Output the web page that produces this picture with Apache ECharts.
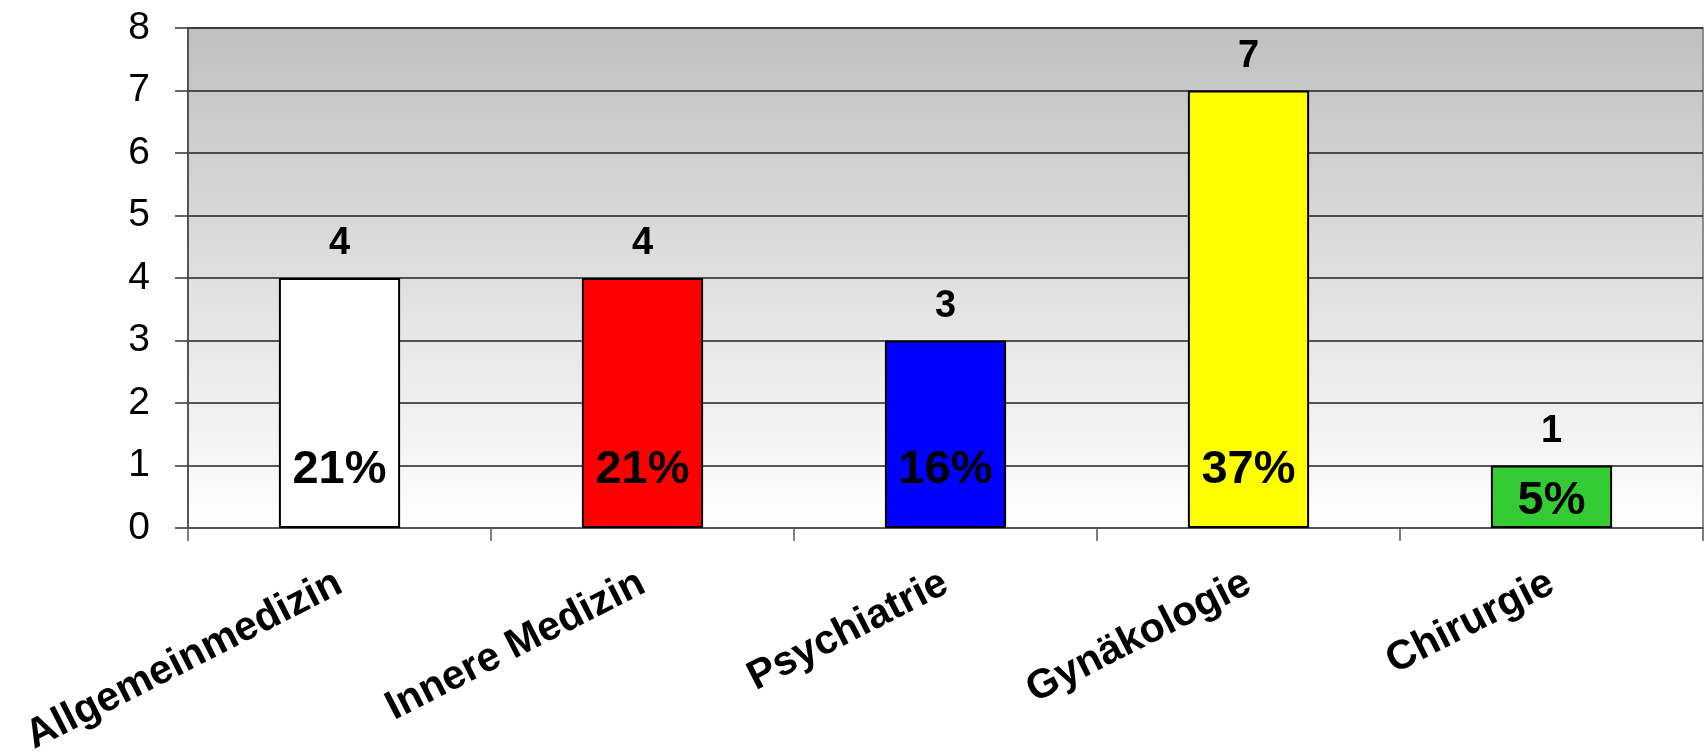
<!DOCTYPE html>
<html>
<head>
<meta charset="utf-8">
<script src="https://cdn.jsdelivr.net/npm/echarts@6/dist/echarts.min.js"></script>
<style>
html,body{margin:0;padding:0;background:#fff;}
#c{width:1708px;height:753px;}
</style>
</head>
<body>
<div id="c"></div>
<script>
const categories = ['Allgemeinmedizin', 'Innere Medizin', 'Psychiatrie', 'Gynäkologie', 'Chirurgie'];
const counts = [4, 4, 3, 7, 1];
const percents = ['21%', '21%', '16%', '37%', '5%'];
const barColors = ['#ffffff', '#ff0000', '#0000ff', '#ffff00', '#33cc33'];
const yTicks = [0, 1, 2, 3, 4, 5, 6, 7, 8];

const FONT = '"Liberation Sans", Arial, sans-serif';

const chart = echarts.init(document.getElementById('c'), null, {renderer: 'canvas'});

const mainData = counts.map((v, i) => ({
  value: v,
  itemStyle: {color: barColors[i]}
}));
const pctData = counts.map((v, i) => ({
  value: v,
  label: v >= 2
    ? {position: 'insideBottom', distance: 34}
    : {position: 'inside', offset: [0, 4]}
}));

chart.setOption({
  animation: false,
  grid: {
    left: 188, right: 5, top: 28, bottom: 225,
    containLabel: false,
    outerBoundsMode: 'none',
    show: true,
    borderColor: '#8c8c8c',
    borderWidth: 2,
    backgroundColor: new echarts.graphic.LinearGradient(0, 0, 0, 1, [
      {offset: 0, color: '#c0c0c0'},
      {offset: 1, color: '#ffffff'}
    ])
  },
  xAxis: {
    type: 'category',
    data: categories,
    axisLine: {show: true, lineStyle: {color: '#555', width: 2}},
    axisTick: {show: true, length: 13, lineStyle: {color: '#555', width: 1.5}},
    axisLabel: {
      interval: 0,
      rotate: 27,
      margin: 53,
      color: '#000',
      fontFamily: FONT,
      fontWeight: 'bold',
      fontSize: 41
    }
  },
  yAxis: {
    type: 'value',
    min: yTicks[0],
    max: yTicks[yTicks.length - 1],
    interval: 1,
    axisLine: {show: true, lineStyle: {color: '#555', width: 2}},
    axisTick: {show: true, length: 13, lineStyle: {color: '#333', width: 1.5}},
    splitLine: {show: true, lineStyle: {color: '#222', width: 1.5}},
    axisLabel: {
      margin: 38,
      color: '#000',
      fontFamily: FONT,
      fontSize: 39
    }
  },
  series: [
    {
      type: 'bar',
      data: mainData,
      barWidth: '40%',
      itemStyle: {borderColor: '#000', borderWidth: 2},
      label: {
        show: true,
        position: 'top',
        distance: 15,
        color: '#000',
        fontFamily: FONT,
        fontWeight: 'bold',
        fontSize: 38
      },
      z: 2
    },
    {
      type: 'bar',
      data: pctData,
      barWidth: '40%',
      barGap: '-100%',
      itemStyle: {color: 'rgba(0,0,0,0)'},
      label: {
        show: true,
        formatter: p => percents[p.dataIndex],
        color: '#000',
        fontFamily: FONT,
        fontWeight: 'bold',
        fontSize: 47
      },
      z: 3
    }
  ]
});
</script>
</body>
</html>
